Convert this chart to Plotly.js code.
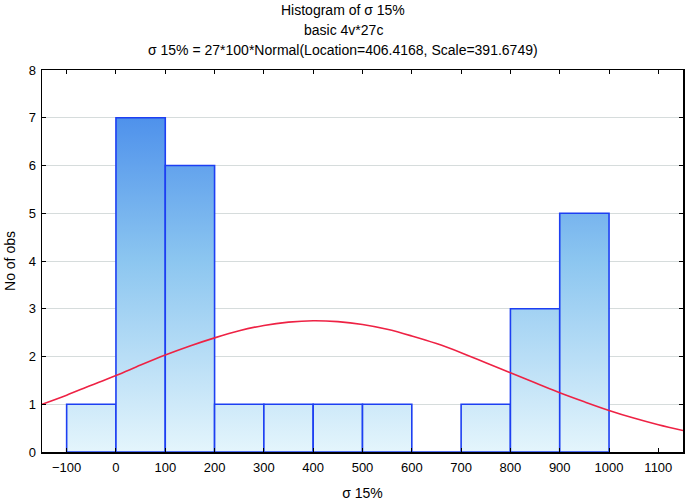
<!DOCTYPE html>
<html>
<head>
<meta charset="utf-8">
<script src="https://cdn.plot.ly/plotly-3.0.1.min.js"></script>
<style>
  html, body { margin: 0; padding: 0; background: #fff; }
  #chart { width: 685px; height: 502px; }
</style>
</head>
<body>
<div id="chart"></div>
<script>
// histogram bins (lower edge) and counts, bin width 100
const binStart = [-100, 0, 100, 200, 300, 400, 500, 600, 700, 800, 900];
const counts = [1, 7, 6, 1, 1, 1, 1, 0, 1, 3, 5];
const binWidth = 100;

// fitted normal curve
const curveX = [-150, -100, -50, 0, 50, 100, 150, 200, 250, 300, 350, 400, 450, 500, 550,
  600, 650, 700, 750, 800, 850, 900, 950, 1000, 1050, 1100, 1150];
const curveY = [1.0, 1.19, 1.4, 1.6, 1.82, 2.03, 2.22, 2.39, 2.54, 2.65, 2.72, 2.75, 2.73, 2.67, 2.57,
  2.43, 2.27, 2.08, 1.87, 1.66, 1.45, 1.24, 1.05, 0.87, 0.71, 0.57, 0.45];

const xTicks = [-100, 0, 100, 200, 300, 400, 500, 600, 700, 800, 900, 1000, 1100];
const yTicks = [0, 1, 2, 3, 4, 5, 6, 7, 8];

const titleLines = [
  "Histogram of σ 15%",
  "basic 4v*27c",
  "σ 15% = 27*100*Normal(Location=406.4168, Scale=391.6749)",
];

const family = "Liberation Sans, Arial, sans-serif";
const tickFont = { family, size: 13, color: "#000" };
const titleFont = { family, size: 14, color: "#000" };

const bars = {
  type: "bar",
  x: binStart.map((s) => s + binWidth / 2),
  y: counts,
  width: binWidth,
  marker: { color: "#7fbcec", line: { color: "#1d3ff2", width: 1.6 } },
  hoverinfo: "x+y",
};

const curve = {
  type: "scatter",
  mode: "lines",
  x: curveX,
  y: curveY,
  line: { color: "#ee2244", width: 1.6, shape: "spline" },
};

const layout = {
  width: 685,
  height: 502,
  margin: { l: 42, r: 2, t: 70, b: 50 },
  paper_bgcolor: "#fff",
  plot_bgcolor: "#fff",
  showlegend: false,
  bargap: 0,
  font: tickFont,
  xaxis: {
    range: [-150, 1150],
    tickvals: xTicks,
    tickfont: tickFont,
    ticks: "inside",
    ticklen: 4,
    tickcolor: "#000",
    ticklabelstandoff: 3,
    showline: true,
    linecolor: "#000",
    linewidth: 1.5,
    mirror: "ticks",
    showgrid: false,
    zeroline: false,
    title: { text: "σ 15%", font: titleFont, standoff: 14 },
  },
  yaxis: {
    range: [0, 8],
    tickvals: yTicks,
    tickfont: tickFont,
    ticks: "inside",
    ticklen: 4,
    tickcolor: "#000",
    ticklabelstandoff: 2,
    showline: true,
    linecolor: "#000",
    linewidth: 1.5,
    mirror: "ticks",
    showgrid: true,
    gridcolor: "#d6dcdc",
    zeroline: false,
    title: { text: "No of obs", font: titleFont, standoff: 10 },
  },
  annotations: titleLines.map((t, i) => ({
    text: t,
    xref: "paper",
    yref: "paper",
    x: 0.47,
    y: 1,
    yshift: 60 - i * 20,
    xanchor: "center",
    yanchor: "middle",
    showarrow: false,
    font: titleFont,
  })),
};

Plotly.newPlot("chart", [bars, curve], layout, { displayModeBar: false, staticPlot: true }).then((gd) => {
  // vertical gradient over the whole plot area, like the original bars
  const svg = gd.querySelector(".main-svg");
  const defs = svg.querySelector("defs");
  const ns = "http://www.w3.org/2000/svg";
  const grad = document.createElementNS(ns, "linearGradient");
  grad.setAttribute("id", "barGrad");
  grad.setAttribute("gradientUnits", "userSpaceOnUse");
  grad.setAttribute("x1", "0");
  grad.setAttribute("x2", "0");
  grad.setAttribute("y1", "0");
  grad.setAttribute("y2", String(gd._fullLayout._size.h));
  [["0", "#3a80ea"], ["0.5", "#8cc6f0"], ["1", "#e4f5fc"]].forEach(([o, c]) => {
    const st = document.createElementNS(ns, "stop");
    st.setAttribute("offset", o);
    st.setAttribute("stop-color", c);
    grad.appendChild(st);
  });
  defs.appendChild(grad);
  gd.querySelectorAll(".barlayer .point path").forEach((p) => {
    p.style.fill = "url(#barGrad)";
  });
});
</script>
</body>
</html>
